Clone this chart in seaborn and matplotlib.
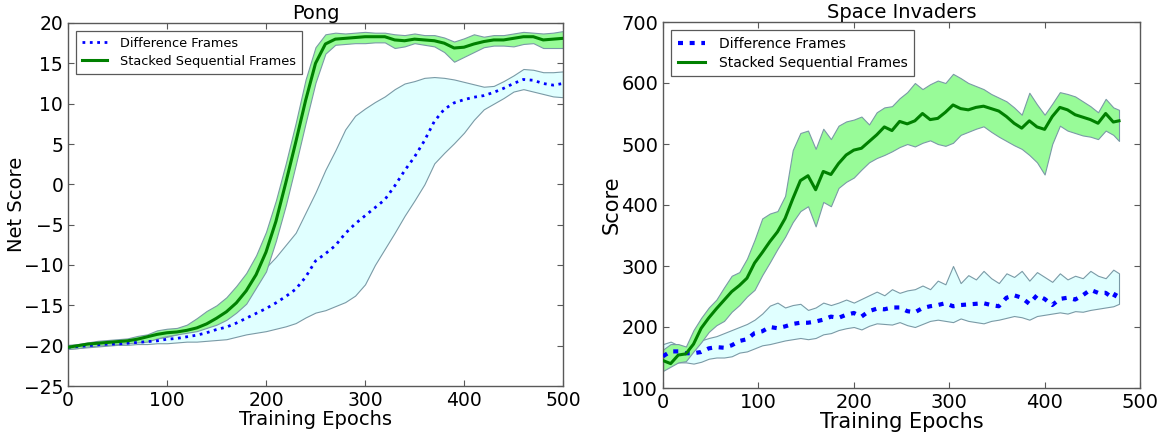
import numpy as np
import pandas as pd
import matplotlib
matplotlib.use("Agg")
import matplotlib.pyplot as plt
import seaborn as sns

# ---------------- Pong data ----------------
pong_epochs = list(range(0, 501, 10))
pong_stack_mean = [-20.2, -20.0, -19.8, -19.7, -19.6, -19.5, -19.4, -19.2, -18.9, -18.6,
                   -18.4, -18.3, -18.1, -17.8, -17.3, -16.6, -15.8, -14.7, -13.2, -11.2,
                   -8.4, -4.6, 0.2, 5.2, 10.4, 15.0, 17.4, 18.0, 18.1, 18.2,
                   18.3, 18.3, 18.3, 17.9, 17.8, 18.0, 17.9, 17.8, 17.5, 16.9,
                   17.0, 17.4, 17.7, 17.9, 17.9, 18.1, 18.3, 18.3, 17.9, 18.0, 18.1]
pong_stack_upper = [-19.9, -19.8, -19.6, -19.4, -19.3, -19.2, -19.1, -18.8, -18.6, -18.1,
                    -17.9, -17.8, -17.4, -16.6, -15.7, -15.0, -14.0, -12.6, -11.0, -8.8,
                    -5.9, -2.0, 2.6, 7.6, 13.0, 17.0, 18.6, 18.8, 18.7, 18.8,
                    18.9, 18.8, 18.8, 18.6, 18.5, 18.7, 18.5, 18.5, 18.2, 17.7,
                    18.1, 18.6, 18.3, 18.5, 18.5, 18.7, 18.9, 18.8, 18.7, 18.8, 19.0]
pong_stack_lower = [-20.4, -20.3, -20.1, -20.0, -19.9, -19.8, -19.7, -19.6, -19.5, -19.1,
                    -18.8, -18.6, -18.4, -18.2, -17.8, -17.4, -16.8, -15.9, -14.8, -12.8,
                    -10.8, -7.0, -2.6, 2.4, 7.6, 12.6, 16.2, 17.3, 17.4, 17.5,
                    17.5, 17.6, 17.6, 16.9, 17.1, 17.5, 17.3, 17.1, 16.4, 15.2,
                    15.8, 16.4, 17.0, 17.2, 17.2, 17.1, 17.4, 17.5, 16.9, 16.9, 16.9]
pong_diff_mean = [-20.2, -20.1, -20.0, -19.9, -19.8, -19.8, -19.7, -19.6, -19.5, -19.4,
                  -19.2, -19.1, -18.9, -18.7, -18.4, -18.0, -17.7, -17.2, -16.6, -16.0,
                  -15.4, -14.7, -13.9, -13.0, -11.5, -9.5, -8.6, -7.6, -6.1, -4.9,
                  -3.9, -2.9, -1.9, -0.2, 1.7, 3.4, 5.4, 7.8, 9.3, 10.1,
                  10.5, 10.8, 11.0, 11.4, 11.9, 12.5, 13.0, 12.9, 12.5, 12.3, 12.5]
pong_diff_upper = [-20.0, -19.9, -19.8, -19.7, -19.6, -19.5, -19.4, -19.3, -19.2, -19.1,
                   -18.9, -18.6, -18.2, -17.7, -16.9, -16.2, -15.4, -14.5, -13.5, -11.4,
                   -10.3, -9.0, -7.5, -6.0, -3.5, -1.0, 1.8, 4.2, 6.8, 8.5,
                   9.4, 10.2, 10.9, 11.8, 12.5, 12.8, 13.2, 13.3, 13.2, 13.0,
                   12.7, 12.4, 12.1, 12.2, 12.8, 13.5, 14.3, 14.2, 13.9, 13.9, 14.0]
pong_diff_lower = [-20.4, -20.3, -20.2, -20.1, -20.0, -19.9, -19.9, -19.8, -19.8, -19.7,
                   -19.7, -19.6, -19.5, -19.5, -19.4, -19.3, -19.2, -18.9, -18.6, -18.4,
                   -18.2, -17.9, -17.6, -17.2, -16.5, -15.9, -15.6, -15.1, -14.6, -13.8,
                   -12.4, -10.0, -8.0, -6.0, -3.9, -2.0, 0.0, 2.6, 3.9, 5.1,
                   6.4, 8.0, 9.3, 10.0, 10.7, 11.5, 11.8, 11.5, 11.2, 10.9, 10.8]

# ---------------- Space Invaders data ----------------
si_epochs = list(range(0, 473, 8)) + [478]
si_stack_mean = [145, 140, 154, 156, 172, 198, 215, 230, 244, 258,
                 268, 280, 305, 322, 340, 356, 378, 410, 440, 448,
                 425, 455, 450, 468, 482, 490, 493, 504, 515, 528,
                 522, 537, 533, 538, 550, 540, 542, 552, 564, 558,
                 556, 560, 562, 558, 554, 545, 534, 526, 538, 528,
                 524, 545, 560, 556, 548, 544, 540, 534, 550, 536, 538]
si_stack_upper = [163, 172, 172, 168, 195, 215, 232, 245, 265, 284,
                  290, 312, 343, 378, 386, 390, 415, 490, 518, 522,
                  492, 525, 508, 530, 537, 540, 545, 532, 552, 560,
                  562, 575, 585, 600, 590, 598, 604, 600, 615, 608,
                  600, 595, 590, 582, 576, 570, 560, 548, 584, 565,
                  548, 566, 585, 582, 578, 570, 562, 552, 574, 560, 556]
si_stack_lower = [128, 135, 142, 144, 160, 175, 192, 203, 210, 225,
                  236, 250, 261, 285, 306, 328, 348, 372, 390, 398,
                  365, 405, 398, 428, 438, 445, 458, 470, 477, 482,
                  488, 495, 500, 496, 502, 506, 500, 497, 502, 515,
                  520, 525, 529, 520, 512, 505, 498, 492, 482, 470,
                  450, 500, 530, 522, 518, 514, 512, 508, 522, 515, 505]
si_diff_mean = [152, 160, 160, 157, 157, 159, 165, 167, 166, 170,
                177, 180, 190, 193, 200, 198, 201, 205, 207, 207,
                209, 212, 217, 215, 220, 223, 217, 226, 230, 229,
                232, 232, 226, 224, 231, 234, 236, 239, 234, 236,
                237, 238, 239, 236, 234, 248, 252, 248, 238, 252,
                246, 236, 246, 248, 245, 252, 261, 256, 256, 247, 264]
si_diff_upper = [172, 176, 170, 165, 172, 178, 182, 185, 190, 195,
                 200, 205, 212, 222, 235, 240, 232, 236, 238, 228,
                 232, 240, 236, 240, 245, 240, 246, 252, 258, 252,
                 262, 256, 260, 262, 268, 262, 276, 270, 300, 272,
                 285, 278, 292, 280, 272, 288, 282, 292, 276, 290,
                 282, 274, 288, 278, 284, 280, 292, 284, 280, 294, 288]
si_diff_lower = [135, 140, 142, 142, 140, 143, 148, 150, 150, 152,
                 158, 160, 165, 170, 172, 175, 178, 180, 182, 180,
                 182, 188, 190, 195, 198, 200, 196, 202, 206, 205,
                 204, 208, 203, 200, 205, 210, 212, 210, 208, 214,
                 210, 208, 206, 210, 212, 215, 218, 216, 212, 218,
                 220, 222, 224, 222, 226, 225, 228, 230, 232, 234, 238]

labels = ["Difference Frames", "Stacked Sequential Frames"]

plt.rcParams.update({
    "font.family": ["DejaVu Sans"],
    "xtick.direction": "in", "ytick.direction": "in",
    "xtick.top": True, "ytick.right": True,
    "xtick.major.size": 4, "ytick.major.size": 4,
    "axes.edgecolor": "0.35",
})

fig = plt.figure(figsize=(11.67, 4.32), dpi=100)
W, H = 1167, 432
ax1 = fig.add_axes([68 / W, (H - 386) / H, (563 - 68) / W, (386 - 23) / H])
ax2 = fig.add_axes([663 / W, (H - 388) / H, (1140 - 663) / W, (388 - 22) / H])

edge = "#7a9aa6"
green_fill = "#98FB98"
cyan_fill = "#E0FFFF"

def panel(ax, x, dm, du, dl, sm, su, sl, diff_style, title, ylabel, ylim, yticks,
          lab_fs, tick_fs, leg_fs, ylab_x):
    ax.fill_between(x, dl, du, facecolor=cyan_fill, edgecolor=edge, linewidth=0.8, zorder=1)
    ax.fill_between(x, sl, su, facecolor=green_fill, edgecolor=edge, linewidth=0.8, zorder=2)
    df = pd.DataFrame({"epoch": x, "diff": dm, "stack": sm})
    sns.lineplot(data=df, x="epoch", y="diff", ax=ax, color="blue", label=labels[0],
                 zorder=3, **diff_style)
    sns.lineplot(data=df, x="epoch", y="stack", ax=ax, color="green", linewidth=2.2,
                 label=labels[1], zorder=4)
    ax.set_xlim(0, 500)
    ax.set_ylim(*ylim)
    ax.set_yticks(yticks)
    ax.set_xticks([0, 100, 200, 300, 400, 500])
    ax.tick_params(labelsize=tick_fs, color="0.35")
    ax.set_title(title, fontsize=14, pad=3)
    ax.set_xlabel("Training Epochs", fontsize=lab_fs, labelpad=0)
    ax.set_ylabel(ylabel, fontsize=lab_fs)
    ax.yaxis.set_label_coords(ylab_x, 0.5)
    leg = ax.legend(loc="upper left", fontsize=leg_fs, fancybox=False, framealpha=1,
                    edgecolor="0.35", handlelength=2.0, borderpad=0.45,
                    labelspacing=0.4, handletextpad=1.0,
                    bbox_to_anchor=(0.0, 1.0), borderaxespad=0.6)
    leg.get_frame().set_linewidth(0.9)
    for s in ax.spines.values():
        s.set_linewidth(1.0)

panel(ax1, pong_epochs, pong_diff_mean, pong_diff_upper, pong_diff_lower,
      pong_stack_mean, pong_stack_upper, pong_stack_lower,
      dict(linestyle=":", linewidth=2.0),
      "Pong", "Net Score", (-25, 20), list(range(-25, 21, 5)), 14, 13.5, 9.3, -0.085)
panel(ax2, si_epochs, si_diff_mean, si_diff_upper, si_diff_lower,
      si_stack_mean, si_stack_upper, si_stack_lower,
      dict(linestyle=(0, (1.2, 1.6)), linewidth=3.0),
      "Space Invaders", "Score", (100, 700), list(range(100, 701, 100)), 15, 14, 10.0, -0.086)

fig.savefig("out.png", dpi=100)
